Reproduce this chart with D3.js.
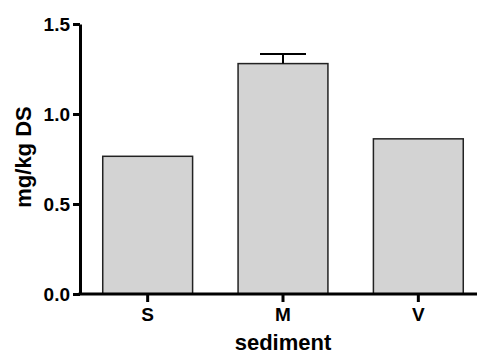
<!DOCTYPE html>
<html>
<head>
<meta charset="utf-8">
<script src="https://cdn.jsdelivr.net/npm/d3@7"></script>
<style>
  body { margin: 0; background: #fff; }
  text { font-family: Arial, "Liberation Sans", sans-serif; font-weight: bold; }
</style>
</head>
<body>
<div id="chart"></div>
<script>
var width = 479,
  height = 354;

// data
var categories = ["S", "M", "V"];
var values = [0.765, 1.28, 0.862];
var errors = [0, 0.053, 0];
var yTicks = [0.0, 0.5, 1.0, 1.5];

var svg = d3
  .select("#chart")
  .append("svg")
  .attr("width", width)
  .attr("height", height);

var x = d3
  .scaleBand()
  .domain(categories)
  .range([80, 486])
  .paddingInner(0.336)
  .paddingOuter(0.168);

var y = d3.scaleLinear().domain([0, 1.5]).range([294, 24]);

// bars
svg
  .selectAll("rect.bar")
  .data(values)
  .enter()
  .append("rect")
  .attr("class", "bar")
  .attr("x", function (d, i) { return x(categories[i]); })
  .attr("y", function (d) { return y(d); })
  .attr("width", x.bandwidth())
  .attr("height", function (d) { return y(0) - y(d); })
  .attr("fill", "#d3d3d3")
  .attr("stroke", "#222")
  .attr("stroke-width", 1.5);

// error bars (only where there is one)
var errG = svg.append("g").attr("stroke", "#000").attr("stroke-width", 2);
values.forEach(function (v, i) {
  if (!errors[i]) return;
  var cx = x(categories[i]) + x.bandwidth() / 2;
  errG.append("line")
    .attr("x1", cx).attr("x2", cx)
    .attr("y1", y(v)).attr("y2", y(v + errors[i]));
  errG.append("line")
    .attr("x1", cx - 23).attr("x2", cx + 23)
    .attr("y1", y(v + errors[i])).attr("y2", y(v + errors[i]));
});

// y axis
var yAxis = svg
  .append("g")
  .attr("transform", "translate(80,0)")
  .call(d3.axisLeft(y).tickValues(yTicks).tickFormat(d3.format(".1f")).tickSize(7).tickSizeOuter(0));
yAxis.select(".domain").attr("stroke-width", 3);
yAxis.selectAll(".tick line").attr("stroke-width", 3);
yAxis.selectAll(".tick text")
  .attr("x", -10)
  .style("font-size", "19px")
  .style("font-weight", "bold")
  .attr("fill", "#000");

// x axis
var xAxis = svg
  .append("g")
  .attr("transform", "translate(0,294)")
  .call(d3.axisBottom(x).tickSize(8).tickSizeOuter(0));
xAxis.select(".domain").attr("stroke-width", 3).attr("d", "M78.5,0H477");
xAxis.selectAll(".tick line").attr("stroke-width", 3);
xAxis.selectAll(".tick text")
  .attr("y", 14)
  .style("font-size", "19px")
  .style("font-weight", "bold")
  .attr("fill", "#000");

// axis titles
svg.append("text")
  .attr("x", 283)
  .attr("y", 350)
  .attr("text-anchor", "middle")
  .style("font-size", "22px")
  .text("sediment");

svg.append("text")
  .attr("transform", "translate(31,157) rotate(-90)")
  .attr("text-anchor", "middle")
  .style("font-size", "22px")
  .text("mg/kg DS");
</script>
</body>
</html>
